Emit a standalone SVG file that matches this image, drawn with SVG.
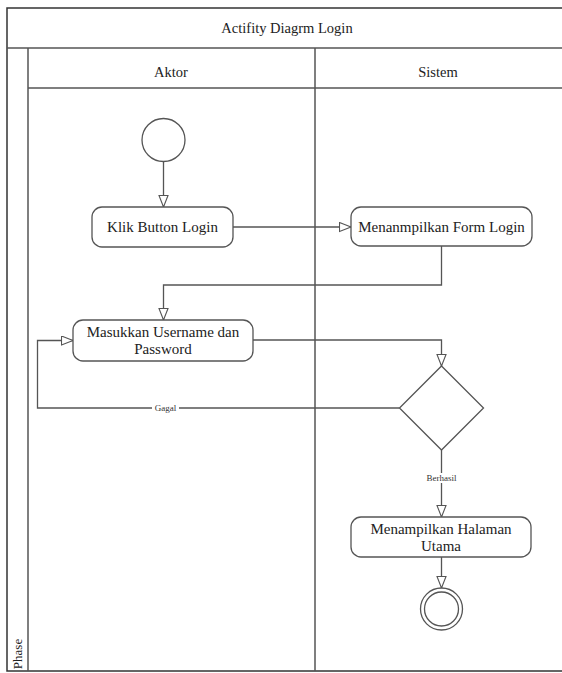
<svg xmlns="http://www.w3.org/2000/svg" width="562" height="673" viewBox="0 0 562 673">
<style>
.frame{fill:none;stroke:#333;stroke-width:1.5}
.sep{stroke:#555;stroke-width:1.5}
.node{fill:#fff;stroke:#555;stroke-width:1.3}
.conn{fill:none;stroke:#555;stroke-width:1.3}
.t{font-family:"Liberation Serif","Times New Roman",serif;font-size:15px;fill:#222;text-anchor:middle}
.lbl{font-family:"Liberation Serif","Times New Roman",serif;font-size:9px;fill:#333;text-anchor:middle}
</style>
<defs>
<marker id="arr" markerUnits="userSpaceOnUse" markerWidth="14" markerHeight="12" refX="12" refY="5" orient="auto">
<path d="M0.5,0.5 L12,5 L0.5,9.5 Z" fill="#fff" stroke="#555" stroke-width="1.1"/>
</marker>
</defs>
<rect width="562" height="673" fill="#fff"/>
<g id="frame">
<rect class="frame" x="7" y="8" width="560" height="663"/>
<line class="sep" x1="7" y1="48" x2="567" y2="48"/>
<line class="sep" x1="28" y1="48" x2="28" y2="671"/>
<line class="sep" x1="28" y1="88" x2="567" y2="88"/>
<line class="sep" x1="315" y1="48" x2="315" y2="671"/>
<text class="t" x="287" y="33" style="font-size:14.5px">Actifity Diagrm Login</text>
<text class="t" x="171" y="77" style="font-size:14.5px">Aktor</text>
<text class="t" x="438" y="77" style="font-size:14.5px">Sistem</text>
<text class="t" x="0" y="4.5" transform="translate(17 654) rotate(-90)" style="font-size:13px">Phase</text>
</g>
<g id="connectors">
<line class="conn" x1="163.5" y1="162" x2="163.5" y2="207" marker-end="url(#arr)"/>
<line class="conn" x1="233" y1="227" x2="351" y2="227" marker-end="url(#arr)"/>
<polyline class="conn" points="441.5,246 441.5,285 163.5,285 163.5,320" marker-end="url(#arr)"/>
<polyline class="conn" points="253,340 441.5,340 441.5,366" marker-end="url(#arr)"/>
<polyline class="conn" points="399.5,408 37.5,408 37.5,340.5 73,340.5" marker-end="url(#arr)"/>
<line class="conn" x1="441.5" y1="450" x2="441.5" y2="517" marker-end="url(#arr)"/>
<line class="conn" x1="441.5" y1="557" x2="441.5" y2="588" marker-end="url(#arr)"/>
<rect x="152" y="403" width="27" height="10" fill="#fff"/>
<text class="lbl" x="165.5" y="411">Gagal</text>
<rect x="424" y="473" width="35" height="10" fill="#fff"/>
<text class="lbl" x="441.5" y="481">Berhasil</text>
</g>
<g id="start">
<circle class="node" cx="163.5" cy="140" r="21.5"/>
</g>
<g id="klik">
<rect class="node" x="92" y="207" width="141" height="40" rx="10"/>
<text class="t" x="162.5" y="232">Klik Button Login</text>
</g>
<g id="form">
<rect class="node" x="351" y="207" width="181" height="39" rx="10"/>
<text class="t" x="441.5" y="231.5">Menanmpilkan Form Login</text>
</g>
<g id="masukkan">
<rect class="node" x="73" y="320" width="180" height="41" rx="10"/>
<text class="t" x="163" y="336.5">Masukkan Username dan</text>
<text class="t" x="163" y="354">Password</text>
</g>
<g id="decision">
<polygon class="node" points="441.5,366 483.5,408 441.5,450 399.5,408"/>
</g>
<g id="halaman">
<rect class="node" x="351" y="517" width="180" height="40" rx="10"/>
<text class="t" x="441" y="533.5">Menampilkan Halaman</text>
<text class="t" x="441" y="550.5">Utama</text>
</g>
<g id="end">
<circle class="node" cx="441.5" cy="609" r="21"/>
<circle class="node" cx="441.5" cy="609" r="17"/>
</g>
</svg>
